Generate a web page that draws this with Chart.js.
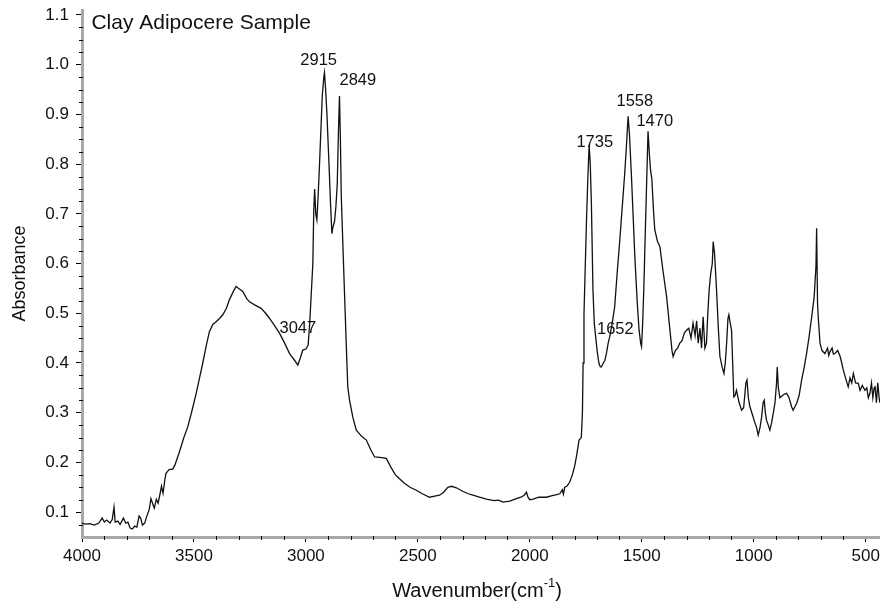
<!DOCTYPE html>
<html>
<head>
<meta charset="utf-8">
<script src="https://cdn.jsdelivr.net/npm/chart.js@4.4.0/dist/chart.umd.min.js"></script>
<style>
  html, body { margin: 0; padding: 0; background: #fff; }
  #wrap { width: 880px; height: 604px; }
</style>
</head>
<body>
<div id="wrap"><canvas id="irChart" width="880" height="604"></canvas></div>
<script>
// Spectrum (cm-1, absorbance)
const wavenumbers = [
  4000, 3985, 3965, 3945, 3925, 3910, 3900, 3890, 3875, 3865, 3857, 3852, 3840, 3830, 3815, 3805,
  3795, 3785, 3775, 3765, 3755, 3745, 3738, 3730, 3720, 3712, 3700, 3692, 3685, 3677, 3668, 3660,
  3650, 3645, 3638, 3630, 3625, 3610, 3595, 3585, 3565, 3545, 3528, 3510, 3490, 3475, 3461, 3445,
  3431, 3415, 3401, 3385, 3371, 3355, 3342, 3325, 3312, 3300, 3282, 3265, 3252, 3225, 3200, 3180,
  3163, 3140, 3118, 3095, 3073, 3050, 3036, 3025, 3014, 3000, 2990, 2983, 2969, 2965, 2961, 2956,
  2951, 2945, 2939, 2932, 2927, 2920, 2917, 2912, 2906, 2902, 2896, 2890, 2884, 2880, 2872, 2866,
  2860, 2855, 2850, 2846, 2842, 2835, 2827, 2820, 2813, 2805, 2790, 2775, 2750, 2730, 2710, 2693,
  2670, 2641, 2620, 2600, 2582, 2560, 2535, 2507, 2480, 2448, 2425, 2403, 2385, 2366, 2350, 2328,
  2300, 2275, 2254, 2225, 2194, 2160, 2140, 2120, 2090, 2060, 2040, 2025, 2015, 2008, 2000, 1985,
  1960, 1926, 1900, 1880, 1866, 1855, 1850, 1844, 1835, 1822, 1810, 1800, 1792, 1780, 1770, 1765,
  1762, 1758, 1752, 1746, 1740, 1735, 1730, 1725, 1718, 1712, 1706, 1698, 1691, 1685, 1680, 1672,
  1665, 1658, 1650, 1643, 1632, 1621, 1610, 1598, 1587, 1576, 1568, 1561, 1555, 1546, 1538, 1531,
  1520, 1512, 1505, 1501, 1496, 1491, 1485, 1479, 1472, 1466, 1461, 1455, 1448, 1442, 1430, 1419,
  1405, 1389, 1375, 1365, 1360, 1350, 1340, 1330, 1320, 1310, 1300, 1290, 1280, 1271, 1262, 1255,
  1248, 1240, 1233, 1226, 1218, 1211, 1205, 1199, 1192, 1185, 1181, 1175, 1170, 1166, 1158, 1151,
  1140, 1133, 1127, 1121, 1115, 1111, 1105, 1099, 1094, 1089, 1083, 1077, 1065, 1054, 1045, 1035,
  1030, 1024, 1017, 1005, 995, 987, 980, 972, 965, 958, 953, 948, 943, 935, 928, 920,
  913, 905, 898, 895, 890, 883, 870, 860, 853, 842, 831, 824, 808, 797, 786, 775,
  764, 752, 741, 730, 722, 719, 715, 712, 704, 695, 682, 670, 665, 659, 650, 644,
  637, 625, 614, 607, 600, 590, 578, 570, 562, 555, 545, 533, 525, 515, 503, 495,
  488, 481, 474, 468, 462, 458, 452, 446, 440, 436
];
const absorbance = [
  0.078, 0.076, 0.077, 0.074, 0.078, 0.088, 0.080, 0.084, 0.078, 0.085, 0.110, 0.080, 0.082, 0.075, 0.088, 0.078,
  0.080, 0.068, 0.066, 0.072, 0.070, 0.092, 0.088, 0.074, 0.078, 0.090, 0.105, 0.127, 0.118, 0.108, 0.126, 0.118,
  0.140, 0.152, 0.138, 0.165, 0.178, 0.186, 0.186, 0.195, 0.221, 0.250, 0.271, 0.302, 0.339, 0.370, 0.399, 0.435,
  0.463, 0.478, 0.483, 0.490, 0.497, 0.510, 0.527, 0.543, 0.554, 0.550, 0.544, 0.530, 0.523, 0.516, 0.510, 0.500,
  0.490, 0.475, 0.460, 0.440, 0.419, 0.405, 0.396, 0.410, 0.426, 0.428, 0.436, 0.480, 0.600, 0.705, 0.750, 0.700,
  0.688, 0.740, 0.802, 0.880, 0.937, 0.975, 0.984, 0.950, 0.900, 0.856, 0.790, 0.720, 0.660, 0.672, 0.685, 0.715,
  0.760, 0.860, 0.937, 0.850, 0.735, 0.640, 0.533, 0.440, 0.352, 0.325, 0.290, 0.265, 0.252, 0.245, 0.225, 0.211,
  0.210, 0.208, 0.190, 0.175, 0.167, 0.158, 0.150, 0.144, 0.137, 0.130, 0.132, 0.134, 0.140, 0.150, 0.152, 0.149,
  0.142, 0.137, 0.134, 0.130, 0.126, 0.123, 0.124, 0.120, 0.122, 0.127, 0.130, 0.134, 0.140, 0.130, 0.125, 0.126,
  0.130, 0.130, 0.133, 0.135, 0.137, 0.145, 0.136, 0.150, 0.152, 0.160, 0.175, 0.192, 0.211, 0.245, 0.250, 0.300,
  0.400, 0.500, 0.600, 0.700, 0.782, 0.839, 0.800, 0.722, 0.547, 0.480, 0.453, 0.420, 0.399, 0.392, 0.392, 0.400,
  0.405, 0.419, 0.440, 0.453, 0.480, 0.513, 0.580, 0.648, 0.715, 0.782, 0.840, 0.896, 0.860, 0.775, 0.690, 0.614,
  0.520, 0.466, 0.440, 0.433, 0.480, 0.547, 0.650, 0.749, 0.866, 0.820, 0.789, 0.770, 0.710, 0.668, 0.645, 0.634,
  0.585, 0.533, 0.470, 0.425, 0.413, 0.425, 0.430, 0.440, 0.445, 0.460, 0.466, 0.470, 0.450, 0.480, 0.455, 0.485,
  0.440, 0.470, 0.430, 0.493, 0.430, 0.440, 0.500, 0.547, 0.580, 0.600, 0.644, 0.620, 0.580, 0.547, 0.470, 0.413,
  0.390, 0.379, 0.400, 0.440, 0.490, 0.497, 0.480, 0.466, 0.400, 0.332, 0.335, 0.345, 0.320, 0.305, 0.310, 0.360,
  0.366, 0.330, 0.312, 0.295, 0.280, 0.270, 0.255, 0.270, 0.290, 0.320, 0.325, 0.300, 0.285, 0.275, 0.265, 0.280,
  0.298, 0.320, 0.360, 0.392, 0.350, 0.330, 0.335, 0.338, 0.339, 0.330, 0.312, 0.305, 0.319, 0.335, 0.366, 0.390,
  0.419, 0.455, 0.493, 0.533, 0.594, 0.671, 0.520, 0.493, 0.440, 0.425, 0.419, 0.430, 0.415, 0.423, 0.430, 0.418,
  0.419, 0.425, 0.413, 0.400, 0.386, 0.370, 0.352, 0.370, 0.360, 0.379, 0.360, 0.359, 0.345, 0.355, 0.345, 0.350,
  0.330, 0.339, 0.360, 0.330, 0.350, 0.352, 0.320, 0.360, 0.330, 0.320
];

const xTicks = [4000, 3500, 3000, 2500, 2000, 1500, 1000, 500];
const yTicks = [0.1, 0.2, 0.3, 0.4, 0.5, 0.6, 0.7, 0.8, 0.9, 1.0, 1.1];

// peak annotations: text, left edge (cm-1), vertical centre (absorbance)
const peakText = ['2915', '2849', '3047', '1735', '1558', '1470', '1652'];
const peakWn   = [3025, 2850, 3118, 1792, 1613, 1524, 1700];
const peakAbs  = [1.009, 0.968, 0.470, 0.843, 0.926, 0.886, 0.468];

const sampleName = 'Clay Adipocere Sample';
const FONT = '"Liberation Sans", Arial, Helvetica, sans-serif';

// minor ticks + annotations + x title with superscript
const decorPlugin = {
  id: 'decor',
  afterDraw(chart) {
    const ctx = chart.ctx;
    const xs = chart.scales.x, ys = chart.scales.y;
    const area = chart.chartArea;
    ctx.save();
    ctx.strokeStyle = '#000';
    ctx.lineWidth = 1;
    for (let v = 500; v <= 4000; v += 100) {
      if (v % 500 === 0) continue;
      const px = Math.round(xs.getPixelForValue(v)) + 0.5;
      ctx.beginPath();
      ctx.moveTo(px, area.bottom - 1);
      ctx.lineTo(px, area.bottom + 3);
      ctx.stroke();
    }
    for (let v = 0.075; v <= 1.1; v += 0.025) {
      if (Math.abs(v * 10 - Math.round(v * 10)) < 0.01) continue;
      const py = Math.round(ys.getPixelForValue(v)) + 0.5;
      ctx.beginPath();
      ctx.moveTo(area.left - 3, py);
      ctx.lineTo(area.left + 1, py);
      ctx.stroke();
    }

    ctx.fillStyle = '#111';
    ctx.textBaseline = 'middle';
    ctx.textAlign = 'left';
    ctx.font = '16.5px ' + FONT;
    peakText.forEach((t, i) => {
      ctx.fillText(t, xs.getPixelForValue(peakWn[i]), ys.getPixelForValue(peakAbs[i]));
    });
    ctx.font = '21px ' + FONT;
    ctx.fillText(sampleName, xs.getPixelForValue(3958), ys.getPixelForValue(1.083));

    // x axis title: Wavenumber(cm-1) with superscript
    const main = 'Wavenumber(cm', sup = '-1', tail = ')';
    ctx.font = '20px ' + FONT;
    const w1 = ctx.measureText(main).width, w3 = ctx.measureText(tail).width;
    ctx.font = '13px ' + FONT;
    const w2 = ctx.measureText(sup).width;
    const total = w1 + w2 + w3;
    let x0 = (area.left + area.right) / 2 - total / 2 - 4;
    const yMid = 591;
    ctx.font = '20px ' + FONT;
    ctx.fillText(main, x0, yMid);
    ctx.font = '13px ' + FONT;
    ctx.fillText(sup, x0 + w1, yMid - 8);
    ctx.font = '20px ' + FONT;
    ctx.fillText(tail, x0 + w1 + w2, yMid);
    ctx.restore();
  }
};

const points = wavenumbers.map((w, i) => ({ x: w, y: absorbance[i] }));

new Chart(document.getElementById('irChart'), {
  type: 'line',
  data: {
    datasets: [{
      data: points,
      borderColor: '#111',
      borderWidth: 1.3,
      pointRadius: 0,
      tension: 0,
      fill: false
    }]
  },
  options: {
    responsive: false,
    animation: false,
    devicePixelRatio: 1,
    layout: { padding: { top: 10, right: 0, left: 0, bottom: 0 } },
    plugins: { legend: { display: false }, tooltip: { enabled: false } },
    scales: {
      x: {
        type: 'linear',
        reverse: true,
        min: 436,
        max: 4000,
        afterBuildTicks: s => { s.ticks = xTicks.map(v => ({ value: v })); },
        afterFit: s => { s.height = 67; s.paddingLeft = 0; s.paddingRight = 0; },
        ticks: {
          color: '#111', font: { size: 17, family: FONT }, padding: 4, maxRotation: 0, autoSkip: false,
          callback: v => String(v)
        },
        grid: { drawOnChartArea: false, tickLength: 5, tickColor: '#000', color: '#000' },
        border: { color: '#a8a8a8', width: 3 }
      },
      y: {
        min: 0.05,
        max: 1.11,
        afterBuildTicks: s => { s.ticks = yTicks.map(v => ({ value: v })); },
        afterFit: s => { s.width = 82; s.paddingTop = 0; s.paddingBottom = 0; },
        ticks: {
          color: '#111', font: { size: 17, family: FONT }, padding: 7,
          callback: v => Number(v).toFixed(1)
        },
        grid: { drawOnChartArea: false, tickLength: 6, tickColor: '#000', color: '#000' },
        border: { color: '#a8a8a8', width: 3 },
        title: { display: true, text: 'Absorbance', color: '#111', font: { size: 18, family: FONT }, padding: { top: 9, bottom: 0 } }
      }
    }
  },
  plugins: [decorPlugin]
});
</script>
</body>
</html>
